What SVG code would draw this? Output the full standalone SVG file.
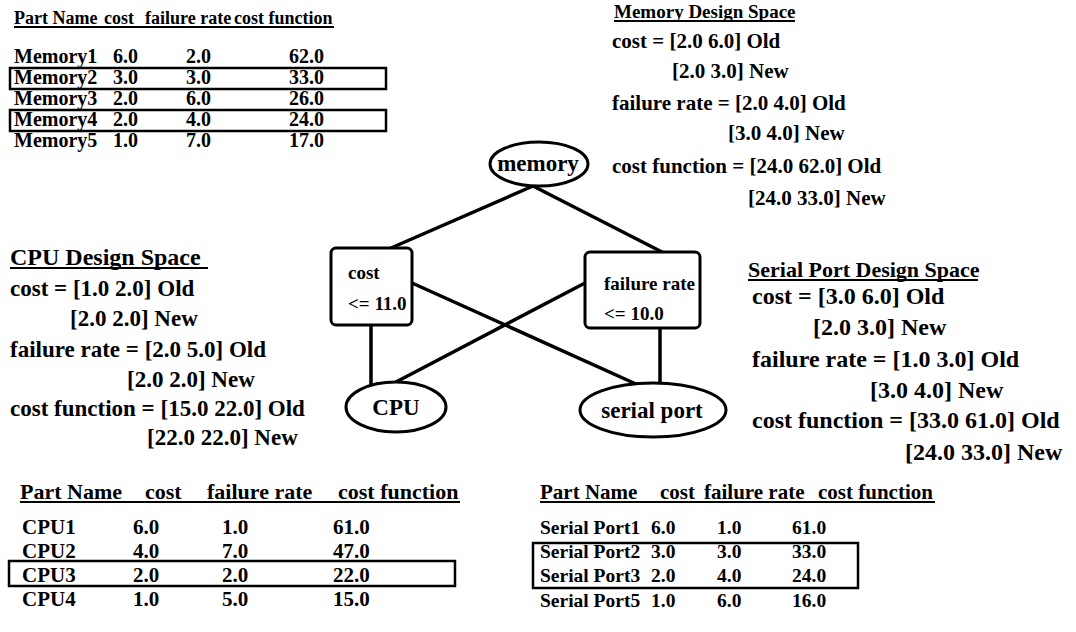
<svg xmlns="http://www.w3.org/2000/svg" width="1076" height="632" viewBox="0 0 1076 632">
  <style>
    text { font-family: "Liberation Serif", "Times New Roman", serif; font-weight: bold; fill: #000; }
    .mid { text-anchor: middle; }
    .edge { stroke: #000; stroke-width: 3.5; stroke-linecap: round; fill: none; }
    .shape { fill: #fff; stroke: #000; stroke-width: 3; }
    .sel { fill: none; stroke: #000; stroke-width: 2.5; }
    .ul { stroke: #000; stroke-width: 1.8; }
    .th1 { font-size: 18px; }
    .td1 { font-size: 20px; }
    .th2 { font-size: 22px; }
    .td2 { font-size: 21px; }
    .th3 { font-size: 21px; }
    .td3 { font-size: 19.5px; }
    .ms { font-size: 21px; }
    .cs { font-size: 23px; }
    .ss { font-size: 24px; }
    .lbl { font-size: 19px; }
    .elbl { font-size: 23px; }
  </style>
  <rect width="1076" height="632" fill="#fff"/>

  <!-- memory parts table -->
  <g id="memory-table">
    <g class="th1">
      <text x="14" y="24">Part Name</text>
      <text x="104" y="24">cost</text>
      <text x="145" y="24">failure rate</text>
      <text x="234" y="24">cost function</text>
    </g>
    <line class="ul" x1="14" y1="27" x2="334" y2="27"/>
    <g class="td1">
      <text x="14" y="63">Memory1</text><text x="113" y="63">6.0</text><text x="186" y="63">2.0</text><text x="289" y="63">62.0</text>
      <text x="14" y="84">Memory2</text><text x="113" y="84">3.0</text><text x="186" y="84">3.0</text><text x="289" y="84">33.0</text>
      <text x="14" y="105">Memory3</text><text x="113" y="105">2.0</text><text x="186" y="105">6.0</text><text x="289" y="105">26.0</text>
      <text x="14" y="126">Memory4</text><text x="113" y="126">2.0</text><text x="186" y="126">4.0</text><text x="289" y="126">24.0</text>
      <text x="14" y="147">Memory5</text><text x="113" y="147">1.0</text><text x="186" y="147">7.0</text><text x="289" y="147">17.0</text>
    </g>
    <rect class="sel" x="10" y="68" width="376" height="21"/>
    <rect class="sel" x="10" y="110" width="376" height="21"/>
  </g>

  <!-- memory design space -->
  <g id="memory-space" class="ms">
    <text x="614" y="18" style="font-size:19px">Memory Design Space</text>
    <line class="ul" x1="614" y1="21" x2="795" y2="21"/>
    <text x="612" y="48">cost = [2.0 6.0] Old</text>
    <text x="672" y="78">[2.0 3.0] New</text>
    <text x="612" y="110">failure rate = [2.0 4.0] Old</text>
    <text x="728" y="140">[3.0 4.0] New</text>
    <text x="612" y="173">cost function = [24.0 62.0] Old</text>
    <text x="748" y="205">[24.0 33.0] New</text>
  </g>

  <!-- CPU design space -->
  <g id="cpu-space" class="cs">
    <text x="10" y="265" style="font-size:24px">CPU Design Space</text>
    <line class="ul" x1="10" y1="268" x2="208" y2="268"/>
    <text x="10" y="296">cost = [1.0 2.0] Old</text>
    <text x="70" y="326">[2.0 2.0] New</text>
    <text x="10" y="357">failure rate = [2.0 5.0] Old</text>
    <text x="127" y="387">[2.0 2.0] New</text>
    <text x="10" y="416">cost function = [15.0 22.0] Old</text>
    <text x="147" y="445">[22.0 22.0] New</text>
  </g>

  <!-- serial port design space -->
  <g id="serial-space" class="ss">
    <text x="748" y="277" style="font-size:22px">Serial Port Design Space</text>
    <line class="ul" x1="748" y1="280" x2="978" y2="280"/>
    <text x="752" y="304">cost = [3.0 6.0] Old</text>
    <text x="813" y="335">[2.0 3.0] New</text>
    <text x="752" y="367">failure rate = [1.0 3.0] Old</text>
    <text x="870" y="398">[3.0 4.0] New</text>
    <text x="752" y="428">cost function = [33.0 61.0] Old</text>
    <text x="905" y="460">[24.0 33.0] New</text>
  </g>

  <!-- connectors -->
  <g id="connectors">
    <line class="edge" x1="533" y1="186" x2="391" y2="248"/>
    <line class="edge" x1="533" y1="186" x2="662" y2="252"/>
    <line class="edge" x1="371" y1="325" x2="371" y2="386"/>
    <line class="edge" x1="660" y1="328" x2="660" y2="384"/>
    <line class="edge" x1="412" y1="283" x2="636" y2="384"/>
    <line class="edge" x1="585" y1="283" x2="396" y2="382"/>
  </g>

  <!-- nodes -->
  <g id="node-memory">
    <ellipse class="shape" cx="539" cy="164" rx="49" ry="22"/>
    <text class="mid elbl" x="538" y="171">memory</text>
  </g>
  <g id="node-cost">
    <rect class="shape" x="331" y="248" width="81" height="77" rx="5"/>
    <text class="lbl" x="348" y="279">cost</text>
    <text class="lbl" x="348" y="310">&lt;= 11.0</text>
  </g>
  <g id="node-failure-rate">
    <rect class="shape" x="585" y="252" width="115" height="76" rx="5"/>
    <text class="lbl" x="604" y="290">failure rate</text>
    <text class="lbl" x="604" y="320">&lt;= 10.0</text>
  </g>
  <g id="node-cpu">
    <ellipse class="shape" cx="396" cy="407" rx="50" ry="25"/>
    <text class="mid elbl" x="396" y="415">CPU</text>
  </g>
  <g id="node-serial-port">
    <ellipse class="shape" cx="653" cy="410" rx="73" ry="27"/>
    <text class="mid elbl" x="652" y="418">serial port</text>
  </g>

  <!-- CPU parts table -->
  <g id="cpu-table">
    <g class="th2">
      <text x="20" y="499">Part Name</text>
      <text x="145" y="499">cost</text>
      <text x="207" y="499">failure rate</text>
      <text x="338" y="499">cost function</text>
    </g>
    <line class="ul" x1="20" y1="502" x2="460" y2="502"/>
    <g class="td2">
      <text x="22" y="534">CPU1</text><text x="133" y="534">6.0</text><text x="222" y="534">1.0</text><text x="333" y="534">61.0</text>
      <text x="22" y="558">CPU2</text><text x="133" y="558">4.0</text><text x="222" y="558">7.0</text><text x="333" y="558">47.0</text>
      <text x="22" y="582">CPU3</text><text x="133" y="582">2.0</text><text x="222" y="582">2.0</text><text x="333" y="582">22.0</text>
      <text x="22" y="606">CPU4</text><text x="133" y="606">1.0</text><text x="222" y="606">5.0</text><text x="333" y="606">15.0</text>
    </g>
    <rect class="sel" x="9" y="561" width="446" height="25"/>
  </g>

  <!-- serial port parts table -->
  <g id="serial-table">
    <g class="th3">
      <text x="540" y="499">Part Name</text>
      <text x="660" y="499">cost</text>
      <text x="704" y="499">failure rate</text>
      <text x="818" y="499">cost function</text>
    </g>
    <line class="ul" x1="540" y1="502" x2="935" y2="502"/>
    <g class="td3">
      <text x="540" y="534">Serial Port1</text><text x="651" y="534">6.0</text><text x="717" y="534">1.0</text><text x="792" y="534">61.0</text>
      <text x="540" y="558">Serial Port2</text><text x="651" y="558">3.0</text><text x="717" y="558">3.0</text><text x="792" y="558">33.0</text>
      <text x="540" y="582">Serial Port3</text><text x="651" y="582">2.0</text><text x="717" y="582">4.0</text><text x="792" y="582">24.0</text>
      <text x="540" y="607">Serial Port5</text><text x="651" y="607">1.0</text><text x="717" y="607">6.0</text><text x="792" y="607">16.0</text>
    </g>
    <rect class="sel" x="533" y="543" width="325" height="45"/>
  </g>
</svg>
